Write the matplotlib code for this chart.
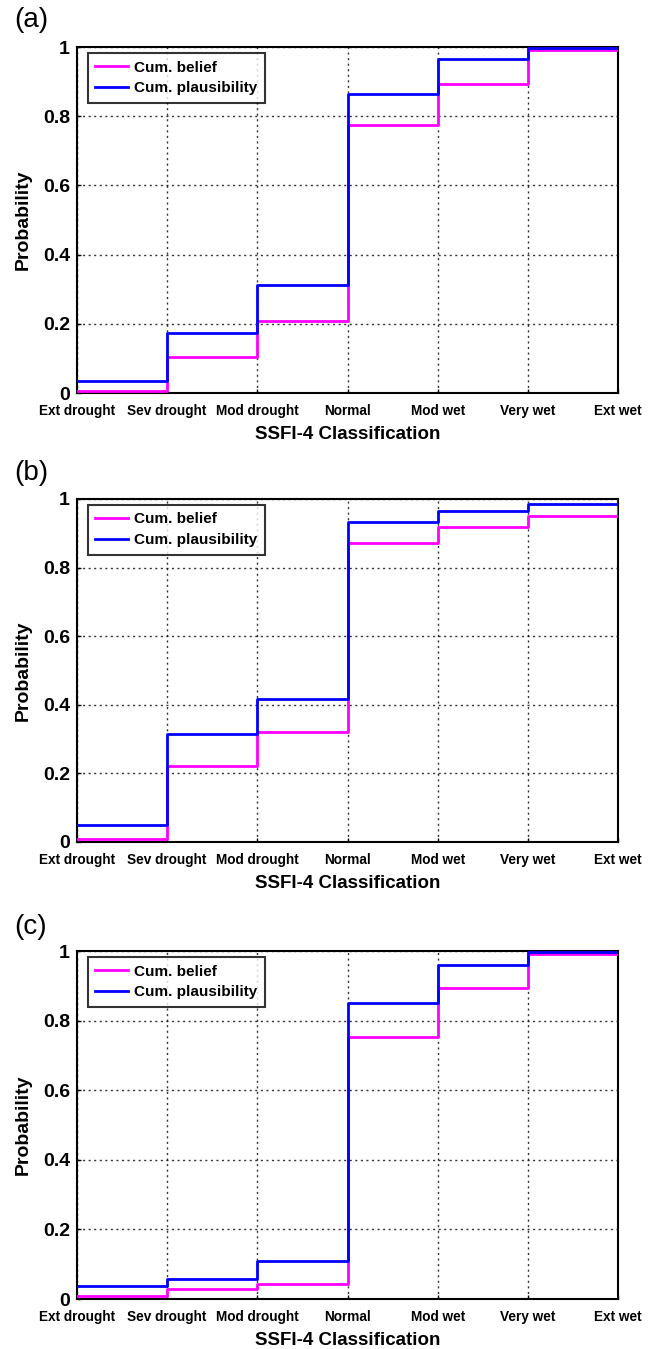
import matplotlib
matplotlib.use("Agg")
import matplotlib.pyplot as plt

# ---------------- data ----------------
categories = ["Ext drought", "Sev drought", "Mod drought", "Normal",
              "Mod wet", "Very wet", "Ext wet"]
panel_labels = ["(a)", "(b)", "(c)"]

belief_a = [0.005, 0.103, 0.209, 0.776, 0.894, 0.990, 1.0]
plaus_a = [0.036, 0.173, 0.312, 0.863, 0.964, 0.997, 1.0]

belief_b = [0.010, 0.221, 0.321, 0.873, 0.917, 0.950, 1.0]
plaus_b = [0.050, 0.316, 0.418, 0.932, 0.964, 0.985, 1.0]

belief_c = [0.008, 0.028, 0.042, 0.754, 0.895, 0.990, 1.0]
plaus_c = [0.036, 0.057, 0.110, 0.850, 0.959, 0.998, 1.0]

yticks = [0, 0.2, 0.4, 0.6, 0.8, 1]
ytick_labels = ["0", "0.2", "0.4", "0.6", "0.8", "1"]
xlabel = "SSFI-4 Classification"
ylabel = "Probability"
legend_labels = ["Cum. belief", "Cum. plausibility"]

plt.rcParams["font.family"] = ["Liberation Sans", "DejaVu Sans"]

W, H = 653, 1349
fig = plt.figure(figsize=(W / 100, H / 100), dpi=100)

# axes boxes in pixels: (left, top, right, bottom)
boxes = [(77, 47, 618, 393), (77, 499, 618, 842), (77, 951, 618, 1299)]
label_y = [20, 473, 927]

data = [(belief_a, plaus_a), (belief_b, plaus_b), (belief_c, plaus_c)]
x = list(range(len(categories)))

for (l, t, r, b), (bel, pla), plab, ly in zip(boxes, data, panel_labels, label_y):
    ax = fig.add_axes([l / W, 1 - b / H, (r - l) / W, (b - t) / H])
    ax.plot(x, bel, drawstyle="steps-post", color="#ff00ff", lw=2.0,
            label=legend_labels[0], zorder=3)
    ax.plot(x, pla, drawstyle="steps-post", color="#0000ff", lw=2.0,
            label=legend_labels[1], zorder=4)
    ax.set_xlim(0, 6)
    ax.set_ylim(0, 1)
    ax.set_xticks(x)
    ax.set_xticklabels(categories, fontsize=9.8, fontweight="bold")
    ax.set_yticks(yticks)
    ax.set_yticklabels(ytick_labels, fontsize=14, fontweight="bold")
    ax.tick_params(axis="x", direction="in", length=3, width=1, pad=8)
    ax.tick_params(axis="y", direction="in", length=3, width=1, pad=5)
    ax.grid(True, linestyle=(0, (1.5, 2.5)), color="black", lw=1.0, alpha=0.8)
    for s in ax.spines.values():
        s.set_linewidth(1.5)
        s.set_color("black")
    ax.set_xlabel(xlabel, fontsize=13.5, fontweight="bold", labelpad=6)
    ax.set_ylabel(ylabel, fontsize=14, fontweight="bold", labelpad=8)
    leg = ax.legend(loc="upper left", bbox_to_anchor=(0.02, 0.983),
                    fontsize=11, frameon=True, fancybox=False,
                    handlelength=2.15, borderpad=0.5, labelspacing=0.45,
                    handletextpad=0.35, borderaxespad=0)
    leg.get_frame().set_edgecolor("black")
    leg.get_frame().set_linewidth(1.5)
    for txt in leg.get_texts():
        txt.set_fontweight("bold")
    fig.text(14 / W, 1 - ly / H, plab, fontsize=20, va="center", ha="left")

fig.savefig("out.png", dpi=100)
